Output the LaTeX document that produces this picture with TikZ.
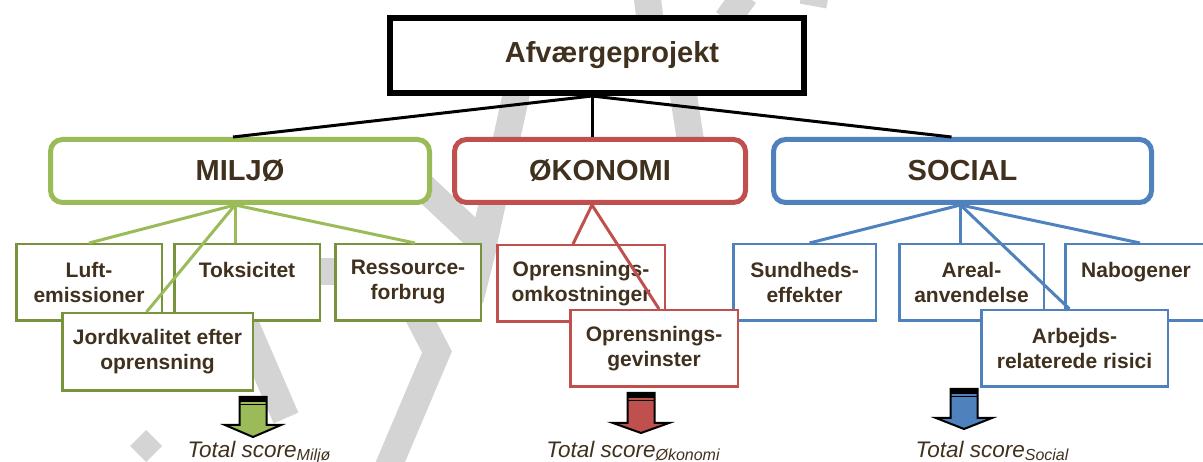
\documentclass[tikz,border=0pt]{standalone}
\usepackage{fontspec}
\setmainfont{Liberation Sans}
\usepackage{xcolor}
\usepackage{tikz}
\usetikzlibrary{positioning}
\definecolor{miljogreen}{RGB}{155,187,89}
\definecolor{miljodark}{RGB}{119,147,60}
\definecolor{okored}{RGB}{192,80,77}
\definecolor{socialblue}{RGB}{79,129,189}
\definecolor{txtbrown}{RGB}{64,49,30}
\definecolor{bandgrey}{RGB}{212,212,212}
\tikzstyle{project} = [rectangle, draw=black, line width=6pt, fill=white,
    minimum width=414pt, minimum height=75pt, text=txtbrown,
    font=\fontsize{29}{34}\selectfont\bfseries]
\tikzstyle{pillar} = [rectangle, rounded corners=12pt, line width=5pt, fill=white,
    minimum height=63pt, text=txtbrown, font=\fontsize{29}{34}\selectfont\bfseries]
\tikzstyle{leaf} = [rectangle, line width=2.5pt, fill=white, minimum height=76.5pt,
    inner sep=3pt, align=center, text=txtbrown,
    font=\fontsize{21}{25}\selectfont\bfseries]
\tikzstyle{oneline} = [text depth=25pt] % single line sits on the first row
\tikzstyle{edge} = [draw, line width=3pt]
\tikzstyle{band} = [draw=bandgrey, line width=27pt]
\tikzstyle{scorearrow} = [draw=black, line width=2pt]
\tikzstyle{score} = [anchor=base, inner sep=0pt, text=txtbrown,
    font=\fontsize{22.5}{26}\selectfont\itshape]
\newcommand{\scoresub}[1]{\raisebox{-3pt}{\fontsize{16}{18}\selectfont #1}}

\begin{document}
\begin{tikzpicture}[x=1pt, y=-1pt]
  \useasboundingbox (0,0) rectangle (1203,462);

  % Grey bands in the background
  \draw [band] (647,-5) -- (650,20);
  \draw [band] (745,-5) -- (727,20);
  \draw [band] (815,-5) -- (813,6);
  \draw [band] (526,50) -- (482,250);
  \draw [band] (678,60) -- (692,150);
  \draw [band] (400,165) -- (485,245);
  \draw [band] (485,240) -- (470,300);
  \draw [band] (300,272) -- (350,272);
  \draw [band] (410,300) -- (437,352) -- (387,470);
  \draw [band] (235,300) -- (286,418);
  \fill [bandgrey] (146,430) -- (162,446) -- (146,462) -- (130,446) -- cycle;

  % Place nodes
  \node [project] (project) at (597,55.5) {\hspace*{30pt}Afværgeprojekt};
  \node [pillar, draw=miljogreen, minimum width=379pt] (miljo) at (240,171) {MILJØ};
  \node [pillar, draw=okored, minimum width=291pt, right=20pt of miljo] (okonomi) {ØKONOMI};
  \node [pillar, draw=socialblue, minimum width=378pt, right=23pt of okonomi] (social) {SOCIAL};

  \node [leaf, draw=miljodark, minimum width=145.5pt] (luft) at (89,282.5) {Luft-\\emissioner};
  \node [leaf, oneline, draw=miljodark, minimum width=145.5pt, right=10pt of luft] (toks) {Toksicitet};
  \node [leaf, draw=miljodark, minimum width=145.5pt, right=13pt of toks] (ressource) {Ressource-\\forbrug};
  \node [leaf, draw=okored, minimum width=167.5pt] (omk) at (581,283.5) {Oprensnings-\\omkostninger};
  \node [leaf, draw=socialblue, minimum width=142.5pt] (sund) at (804.5,282.5) {Sundheds-\\effekter};
  \node [leaf, draw=socialblue, minimum width=144.5pt, right=21pt of sund] (areal) {Areal-\\anvendelse};
  \node [leaf, oneline, draw=socialblue, minimum width=141.5pt, right=19pt of areal] (nabo) {Nabogener};

  % Boxes lying over the first row
  \node [leaf, draw=miljodark, minimum width=190.5pt, minimum height=77.5pt] (jord) at (157.5,352) {Jordkvalitet efter\\oprensning};
  \node [leaf, draw=okored, minimum width=167.5pt] (gevinst) at (654,348.5) {Oprensnings-\\gevinster};
  \node [leaf, draw=socialblue, minimum width=186.5pt] (arbejd) at (1074.5,348.5) {Arbejds-\\relaterede risici};

  % Draw edges
  \coordinate (hub) at ([xshift=-5pt]project.south);
  \path [edge] (hub) -- ([xshift=-7pt]miljo.north);
  \path [edge] (hub) -- ([xshift=-8pt]okonomi.north);
  \path [edge] (hub) -- ([xshift=-11pt]social.north);
  \foreach \child/\dx in {luft/0, toks/-12, ressource/7, jord/-11}
    \path [edge, draw=miljogreen] ([xshift=-5pt]miljo.south) -- ([xshift=\dx pt]\child.north);
  \foreach \child/\dx in {omk/-8, gevinst/5}
    \path [edge, draw=okored] ([xshift=-8pt]okonomi.south) -- ([xshift=\dx pt]\child.north);
  \foreach \child/\dx in {sund/5, areal/-11, nabo/4, arbejd/-5}
    \path [edge, draw=socialblue] ([xshift=-2pt]social.south) -- ([xshift=\dx pt]\child.north);

  % Score arrows
  \foreach \xa/\ya/\yb/\yc/\col in {253/397/425/437/miljogreen, 641/393/423/433/okored, 964/389/418/429/socialblue} {
    \draw [scorearrow, fill=\col] (\xa-13.5,\ya) -- (\xa+13.5,\ya) -- (\xa+13.5,\yb) -- (\xa+28,\yb)
      -- (\xa,\yc) -- (\xa-28,\yb) -- (\xa-13.5,\yb) -- cycle;
    \fill (\xa-13.5,\ya) rectangle (\xa+13.5,\ya+5);
    \draw [line width=1.5pt] (\xa-13.5,\ya+7.5) -- (\xa+13.5,\ya+7.5);
  }
  \node [score] (scoremiljo) at (259,457) {Total score\scoresub{Miljø}};
  \node [score] (scoreokonomi) at (633,457) {Total score\scoresub{Økonomi}};
  \node [score] (scoresocial) at (992,457) {Total score\scoresub{Social}};
\end{tikzpicture}
\end{document}
